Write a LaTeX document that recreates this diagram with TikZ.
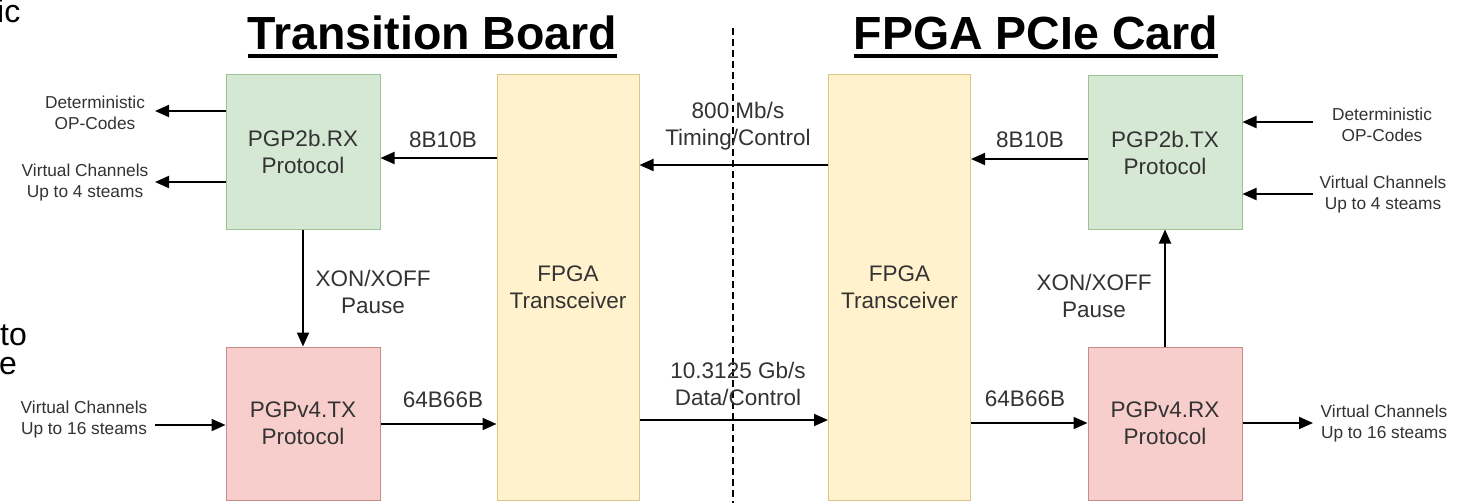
\documentclass[tikz,border=0pt]{standalone}
\usepackage{fontspec}
\setmainfont{Liberation Sans}
\usetikzlibrary{arrows.meta}
\definecolor{greenfill}{HTML}{D5E8D4}
\definecolor{greenline}{HTML}{9CC295}
\definecolor{redfill}{HTML}{F8CECC}
\definecolor{redline}{HTML}{C98A88}
\definecolor{yellowfill}{HTML}{FFF2CC}
\definecolor{yellowline}{HTML}{DCC58A}
\definecolor{textgray}{HTML}{333333}
\begin{document}
\begin{tikzpicture}[x=1pt,y=-1pt,
  blockbox/.style={draw, line width=1pt, inner sep=0pt, align=center,
    minimum width=154pt, minimum height=154pt,
    font=\fontsize{22.5}{27}\selectfont, text=textgray},
  greenbox/.style={blockbox, fill=greenfill, draw=greenline},
  redbox/.style={blockbox, fill=redfill, draw=redline},
  xcvrbox/.style={blockbox, fill=yellowfill, draw=yellowline,
    minimum width=142pt, minimum height=425pt},
  arr/.style={line width=2pt, -{Triangle[length=14pt,width=12pt]}},
  lbl/.style={inner sep=0pt, align=center, text=textgray,
    font=\fontsize{22.5}{27}\selectfont},
  smalllbl/.style={inner sep=0pt, align=center, text=textgray,
    font=\fontsize{17.3}{21}\selectfont},
  heading/.style={inner sep=0pt, anchor=base,
    font=\fontsize{46.5}{56}\selectfont\bfseries},
  edgetext/.style={inner sep=0pt, anchor=base west,
    font=\fontsize{32}{36}\selectfont}
]
\useasboundingbox (0,0) rectangle (1457,503);
\clip (0,0) rectangle (1457,503);
\fill[white] (0,0) rectangle (1457,503);

% text cut off at the left edge
\node[edgetext] (cut1) at (-3,23) {ic};
\node[edgetext] (cut2) at (0,345) {to};
\node[edgetext, yshift=-0.5pt] (cut3) at (-1,374) {e};

% headings
\node[heading] (tb) at (432.5,50) {Transition Board};
\node[heading] (pc) at (1036,50) {FPGA PCIe Card};
\draw[line width=3.5pt] ([yshift=-6pt]tb.base west) -- ([yshift=-6pt]tb.base east);
\draw[line width=3.5pt] ([yshift=-6pt]pc.base west) -- ([yshift=-6pt]pc.base east);

% divider between the two boards
\coordinate (dtop) at (733,28);
\coordinate (dbot) at (733,503);
\draw[line width=2pt, dash pattern=on 7pt off 4pt] (dtop) -- (dbot);

% blocks
\node[greenbox, minimum height=154pt] (rx) at (303,152) {PGP2b.RX\\Protocol};
\node[redbox, minimum height=153pt] (tx) at (303,423.5) {PGPv4.TX\\Protocol};
\node[xcvrbox] (lx) at (568,287.5) {FPGA\\Transceiver};
\node[xcvrbox] (rxc) at (899.5,287.5) {FPGA\\Transceiver};
\node[greenbox, minimum height=153pt] (ptx) at (1165,152.5) {PGP2b.TX\\Protocol};
\node[redbox, minimum height=153pt] (prx) at (1165,423.5) {PGPv4.RX\\Protocol};

% left side external ports
\coordinate (opL) at (155,111);
\coordinate (vcL) at (155,182);
\coordinate (vcin) at (155,425);
\draw[arr] (rx.west |- opL) -- (opL);
\draw[arr] (rx.west |- vcL) -- (vcL);
\draw[arr] (vcin) -- (tx.west |- vcin);
\node[smalllbl] (opLt) at (95,113) {Deterministic\\OP-Codes};
\node[smalllbl] (vcLt) at (85,183) {Virtual Channels\\Up to 4 steams};
\node[smalllbl] (vcint) at (84,420) {Virtual Channels\\Up to 16 steams};

% right side external ports
\coordinate (opR) at (1313,122);
\coordinate (vcR) at (1313,194);
\coordinate (vcout) at (1313,423);
\draw[arr] (opR) -- (ptx.east |- opR);
\draw[arr] (vcR) -- (ptx.east |- vcR);
\draw[arr] (prx.east |- vcout) -- (vcout);
\node[smalllbl] (opRt) at (1382,125) {Deterministic\\OP-Codes};
\node[smalllbl] (vcRt) at (1383,195) {Virtual Channels\\Up to 4 steams};
\node[smalllbl] (vcoutt) at (1384,424) {Virtual Channels\\Up to 16 steams};

% flow control
\draw[arr] (rx.south) -- (tx.north);
\node[lbl] (xonL) at (373,292) {XON/XOFF\\Pause};
\draw[arr] (prx.north) -- (ptx.south);
\node[lbl] (xonR) at (1094,295.5) {XON/XOFF\\Pause};

% encoded links
\coordinate (y8L) at (0,158);
\coordinate (y64L) at (0,424);
\coordinate (yTim) at (0,165);
\coordinate (yDat) at (0,420);
\coordinate (y8R) at (0,159);
\coordinate (y64R) at (0,423);
\draw[arr] (lx.west |- y8L) -- (rx.east |- y8L);
\node[lbl] (l8L) at (443,140) {8B10B};
\draw[arr] (tx.east |- y64L) -- (lx.west |- y64L);
\node[lbl] (l64L) at (443,400) {64B66B};
\draw[arr] (rxc.west |- yTim) -- (lx.east |- yTim);
\node[lbl] (lTim) at (738,126.5) {800 Mb/s\\Timing/Control};
\draw[arr] (lx.east |- yDat) -- (rxc.west |- yDat);
\node[lbl] (lDat) at (738,383.5) {10.3125 Gb/s\\Data/Control};
\draw[arr] (ptx.west |- y8R) -- (rxc.east |- y8R);
\node[lbl] (l8R) at (1030,140) {8B10B};
\draw[arr] (rxc.east |- y64R) -- (prx.west |- y64R);
\node[lbl] (l64R) at (1025,399) {64B66B};
\end{tikzpicture}
\end{document}
